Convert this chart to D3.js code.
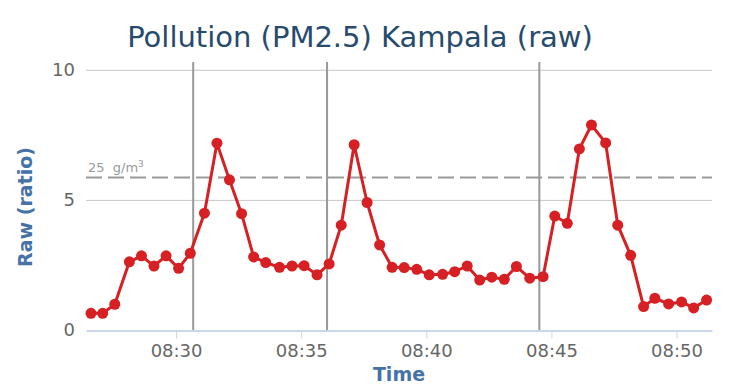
<!DOCTYPE html>
<html lang="en">
<head>
    <meta charset="UTF-8">
    <title>Pollution (PM2.5) Kampala (raw)</title>
    <script src="https://d3js.org/d3.v7.min.js"></script>
    <style>
        body { margin: 0; background: #fff; }
        text { font-family: "DejaVu Sans", Verdana, sans-serif; }
    </style>
</head>
<body>
    <div id="chart"></div>
    <script>
        // readings, roughly every 30 seconds
        var times = ["08:26:36", "08:27:04", "08:27:33", "08:28:08", "08:28:37", "08:29:07", "08:29:36", "08:30:06", "08:30:34", "08:31:08",
                     "08:31:38", "08:32:08", "08:32:37", "08:33:06", "08:33:35", "08:34:08", "08:34:38", "08:35:07", "08:35:38", "08:36:07",
                     "08:36:36", "08:37:07", "08:37:38", "08:38:08", "08:38:38", "08:39:07", "08:39:37", "08:40:07", "08:40:39", "08:41:08",
                     "08:41:38", "08:42:08", "08:42:37", "08:43:07", "08:43:36", "08:44:08", "08:44:40", "08:45:08", "08:45:38", "08:46:07",
                     "08:46:36", "08:47:10", "08:47:39", "08:48:10", "08:48:41", "08:49:08", "08:49:41", "08:50:12", "08:50:41", "08:51:12"];
        var rawValues = [0.64, 0.64, 0.99, 2.62, 2.85, 2.46, 2.85, 2.37, 2.95, 4.49,
                         7.18, 5.77, 4.47, 2.81, 2.59, 2.41, 2.46, 2.47, 2.12, 2.54,
                         4.03, 7.12, 4.90, 3.27, 2.41, 2.40, 2.33, 2.12, 2.14, 2.24,
                         2.46, 1.92, 2.03, 1.95, 2.44, 1.99, 2.05, 4.38, 4.10, 6.96,
                         7.88, 7.19, 4.03, 2.87, 0.90, 1.22, 1.00, 1.08, 0.85, 1.15];
        var xTicks = ["08:30", "08:35", "08:40", "08:45", "08:50"];
        var yTicks = [0, 5, 10];
        var markerTimes = ["08:30:41", "08:36:02", "08:44:31"];
        var limitValue = 5.86;
        var limitLabel = "25  g/m";

        var width = 731, height = 386;
        var margin = {top: 62, right: 19, bottom: 56, left: 86};
        var parseTime = d3.timeParse("%H:%M:%S");
        var parseTick = d3.timeParse("%H:%M");

        var data = times.map(function(t, i) { return {t: parseTime(t), v: rawValues[i]}; });

        var x = d3.scaleTime()
            .domain([parseTime("08:26:24"), parseTime("08:51:25")])
            .range([margin.left, width - margin.right]);
        var y = d3.scaleLinear()
            .domain([0, 10.3])
            .range([height - margin.bottom, margin.top]);

        var svg = d3.select("#chart").append("svg")
            .attr("width", width)
            .attr("height", height);

        // horizontal grid
        svg.append("g").selectAll("line")
            .data(yTicks.filter(function(d) { return d > 0; }))
            .enter().append("line")
            .attr("x1", x.range()[0]).attr("x2", x.range()[1])
            .attr("y1", function(d) { return y(d) + 0.5; })
            .attr("y2", function(d) { return y(d) + 0.5; })
            .attr("stroke", "#c8c8c8")
            .attr("stroke-width", 1);

        // y labels
        svg.append("g").selectAll("text")
            .data(yTicks)
            .enter().append("text")
            .attr("x", margin.left - 11)
            .attr("y", function(d) { return y(d) + 6; })
            .attr("text-anchor", "end")
            .attr("font-size", 18)
            .attr("fill", "#666")
            .text(function(d) { return d; });

        // x axis
        var xAxis = d3.axisBottom(x)
            .tickValues(xTicks.map(function(d) { return parseTick(d); }))
            .tickFormat(d3.timeFormat("%H:%M"))
            .tickSizeInner(8)
            .tickSizeOuter(0)
            .tickPadding(6);
        var gx = svg.append("g")
            .attr("transform", "translate(0," + (y(0) + 0.5) + ")")
            .call(xAxis);
        gx.select(".domain").attr("stroke", "#ccd6eb").attr("stroke-width", 2);
        gx.selectAll(".tick line").attr("stroke", "#ccd6eb").attr("stroke-width", 1);
        gx.selectAll(".tick text")
            .attr("font-size", 18)
            .attr("fill", "#666")
            .style("font-family", "DejaVu Sans, sans-serif");

        // vertical plot lines
        svg.append("g").selectAll("line")
            .data(markerTimes)
            .enter().append("line")
            .attr("x1", function(d) { return x(parseTime(d)); })
            .attr("x2", function(d) { return x(parseTime(d)); })
            .attr("y1", y.range()[1])
            .attr("y2", y(0))
            .attr("stroke", "#999")
            .attr("stroke-width", 2);

        // limit line
        svg.append("line")
            .attr("x1", x.range()[0]).attr("x2", x.range()[1])
            .attr("y1", y(limitValue)).attr("y2", y(limitValue))
            .attr("stroke", "#999")
            .attr("stroke-width", 2)
            .attr("stroke-dasharray", "16,6");

        var lab = svg.append("text")
            .attr("x", x.range()[0] + 2)
            .attr("y", y(limitValue) - 6)
            .attr("font-size", 13)
            .attr("fill", "#999")
            .attr("xml:space", "preserve")
            .text(limitLabel);
        lab.append("tspan")
            .attr("font-size", 9)
            .attr("dy", -5)
            .text("3");

        // series
        var line = d3.line()
            .x(function(d) { return x(d.t); })
            .y(function(d) { return y(d.v); });

        svg.append("path")
            .datum(data)
            .attr("fill", "none")
            .attr("stroke", "#d62023")
            .attr("stroke-width", 3)
            .attr("stroke-linejoin", "round")
            .attr("d", line);

        svg.append("g").selectAll("circle")
            .data(data)
            .enter().append("circle")
            .attr("cx", function(d) { return x(d.t); })
            .attr("cy", function(d) { return y(d.v); })
            .attr("r", 5.5)
            .attr("fill", "#d62023");

        // titles
        svg.append("text")
            .attr("x", 360)
            .attr("y", 47)
            .attr("text-anchor", "middle")
            .attr("font-size", 29)
            .attr("fill", "#274b6d")
            .text("Pollution (PM2.5) Kampala (raw)");

        svg.append("text")
            .attr("transform", "translate(32,207) rotate(-90)")
            .attr("text-anchor", "middle")
            .attr("font-size", 19)
            .attr("font-weight", "bold")
            .attr("fill", "#4572a7")
            .text("Raw (ratio)");

        svg.append("text")
            .attr("x", (x.range()[0] + x.range()[1]) / 2)
            .attr("y", 381)
            .attr("text-anchor", "middle")
            .attr("font-size", 19)
            .attr("font-weight", "bold")
            .attr("fill", "#4572a7")
            .text("Time");
    </script>
</body>
</html>
